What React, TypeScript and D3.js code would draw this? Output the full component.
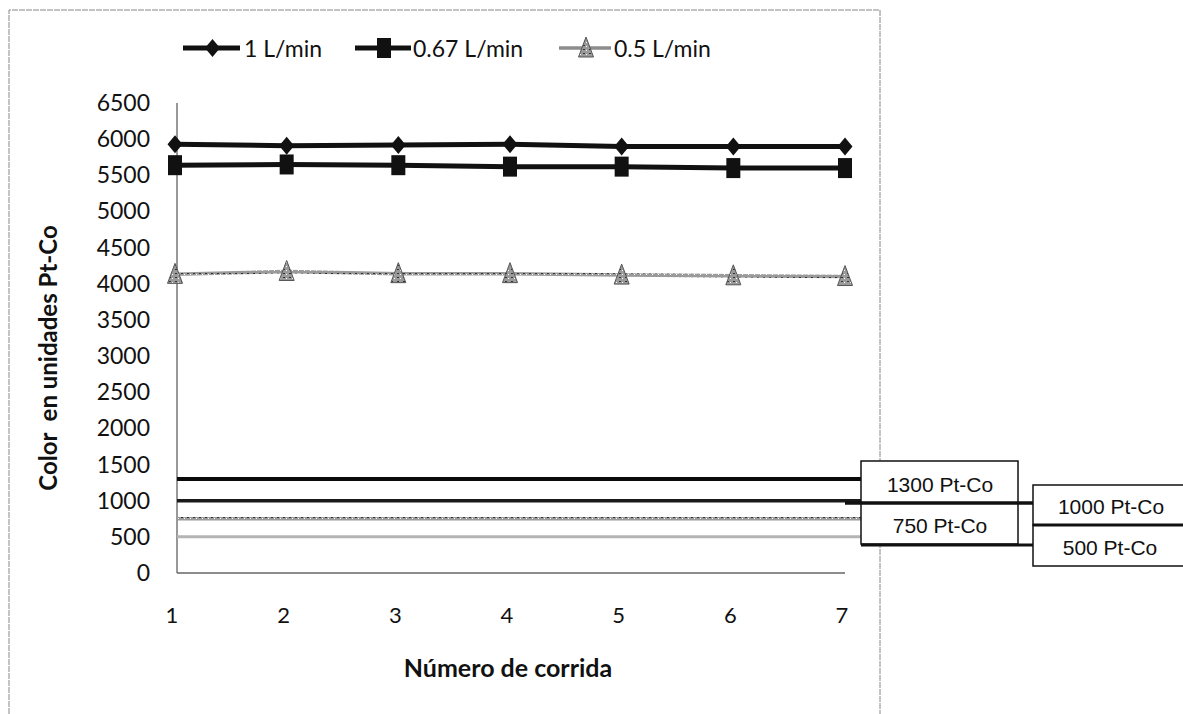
import React from "react";
import * as d3 from "d3";

const runs = [1, 2, 3, 4, 5, 6, 7];
const flow1 = [5930, 5910, 5920, 5930, 5900, 5900, 5900];
const flow067 = [5640, 5650, 5640, 5620, 5620, 5600, 5600];
const flow05 = [4130, 4170, 4140, 4140, 4120, 4110, 4100];
const yTicks = [0, 500, 1000, 1500, 2000, 2500, 3000, 3500, 4000, 4500, 5000, 5500, 6000, 6500];
const limits = [1300, 1000, 750, 500];
const limitLabels = ["1300 Pt-Co", "1000 Pt-Co", "750 Pt-Co", "500 Pt-Co"];

const FONT = "Lato, 'Open Sans', sans-serif";

export default function App() {
  const W = 1183;
  const H = 714;
  const x = d3.scaleLinear().domain([1, 7]).range([175, 845]);
  const y = d3.scaleLinear().domain([0, 6500]).range([573, 103]);
  const line = d3
    .line<number>()
    .x((_, i) => x(runs[i]))
    .y((d) => y(d));

  const series = [
    { name: "1 L/min", values: flow1, color: "#111", width: 5, marker: "diamond" },
    { name: "0.67 L/min", values: flow067, color: "#111", width: 5, marker: "square" },
    { name: "0.5 L/min", values: flow05, color: "#8c8c8c", width: 3.5, marker: "triangle" },
  ];

  const marker = (kind: string, cx: number, cy: number, color: string, key: string) => {
    if (kind === "diamond") {
      return (
        <path key={key} d={`M${cx},${cy - 9}L${cx + 7.5},${cy}L${cx},${cy + 9}L${cx - 7.5},${cy}Z`} fill={color} />
      );
    }
    if (kind === "square") {
      return <rect key={key} x={cx - 7} y={cy - 10} width={14} height={20} fill={color} />;
    }
    return (
      <path
        key={key}
        d={`M${cx},${cy - 11}L${cx + 7.5},${cy + 9}L${cx - 7.5},${cy + 9}Z`}
        fill="url(#grain)"
        stroke="#555"
        strokeWidth={1}
      />
    );
  };

  const legendItems = [
    { s: series[0], x0: 183, x1: 240, tx: 244 },
    { s: series[1], x0: 355, x1: 411, tx: 413 },
    { s: series[2], x0: 559, x1: 611, tx: 614 },
  ];

  const limitStyle = [
    { color: "#0a0a0a", width: 4 },
    { color: "#1a1a1a", width: 3.5 },
    { color: "url(#grain)", width: 3.5 },
    { color: "#b4b4b4", width: 3 },
  ];

  return (
    <svg width={W} height={H} style={{ position: "absolute", left: 0, top: 0, background: "#fff" }}>
      <defs>
        <pattern id="grain" width="6" height="4" patternUnits="userSpaceOnUse">
          <rect width="6" height="4" fill="#9a9a9a" />
          <rect x="1" y="1" width="2" height="1" fill="#333" />
          <rect x="4" y="2" width="1" height="1" fill="#fff" />
        </pattern>
      </defs>
      {/* outer frame */}
      <path d="M9,714V10H880V714" fill="none" stroke="#888" strokeWidth={1} strokeDasharray="6 1" />

      {/* legend */}
      {legendItems.map((it, i) => (
        <g key={i}>
          <line
            x1={it.x0}
            x2={it.x1}
            y1={48}
            y2={48}
            stroke={it.s.marker === "triangle" ? "#8c8c8c" : "#111"}
            strokeWidth={it.s.width}
          />
          {marker(it.s.marker, (it.x0 + it.x1) / 2 + 1, 48, it.s.color, "lm" + i)}
          <text x={it.tx} y={57} fontFamily={FONT} fontSize={23} fill="#111">
            {it.s.name}
          </text>
        </g>
      ))}

      {/* y axis */}
      <line x1={177} x2={177} y1={103} y2={573} stroke="#333" strokeWidth={1} />
      {yTicks.map((t) => (
        <text
          key={t}
          x={150}
          y={y(t) + 8}
          textAnchor="end"
          fontFamily={FONT}
          fontSize={23}
          fill="#111"
        >
          {t}
        </text>
      ))}
      {/* x axis */}
      <line x1={177} x2={845} y1={573} y2={573} stroke="#666" strokeWidth={1.5} />
      {runs.map((r) => (
        <text key={r} x={x(r) - 3} y={623} textAnchor="middle" fontFamily={FONT} fontSize={22} fill="#111">
          {r}
        </text>
      ))}

      <text
        x={508}
        y={677}
        textAnchor="middle"
        fontFamily={FONT}
        fontSize={25}
        fontWeight="bold"
        fill="#111"
      >
        Número de corrida
      </text>
      <text
        transform="translate(57,358) rotate(-90)"
        textAnchor="middle"
        fontFamily={FONT}
        fontSize={24}
        fontWeight="bold"
        fill="#111"
        style={{ whiteSpace: "pre" }}
      >
        {"Color  en unidades Pt-Co"}
      </text>

      {/* reference limits */}
      {limits.map((v, i) => (
        <line
          key={v}
          x1={177}
          x2={861}
          y1={y(v)}
          y2={y(v)}
          stroke={limitStyle[i].color}
          strokeWidth={limitStyle[i].width}
        />
      ))}

      {/* limit callouts */}
      <g fontFamily="'Liberation Sans', Arial, sans-serif" fontSize={21} fill="#111">
        <rect x={861} y={461} width={157} height={42} fill="#fff" stroke="#111" strokeWidth={1.5} />
        <rect x={861} y={503} width={157} height={41} fill="#fff" stroke="#111" strokeWidth={1.5} />
        <rect x={1033} y={485} width={152} height={40} fill="#fff" stroke="#111" strokeWidth={1.5} />
        <rect x={1033} y={525} width={152} height={41} fill="#fff" stroke="#111" strokeWidth={1.5} />
        <line x1={845} x2={1033} y1={503} y2={503} stroke="#111" strokeWidth={3.5} />
        <line x1={861} x2={1033} y1={545} y2={545} stroke="#111" strokeWidth={3} />
        <line x1={1033} x2={1183} y1={525} y2={525} stroke="#111" strokeWidth={3} />
        <text x={940} y={492} textAnchor="middle">{limitLabels[0]}</text>
        <text x={1111} y={514} textAnchor="middle">{limitLabels[1]}</text>
        <text x={940} y={533} textAnchor="middle">{limitLabels[2]}</text>
        <text x={1110} y={555} textAnchor="middle">{limitLabels[3]}</text>
      </g>

      {/* data series */}
      {series.map((s, si) => (
        <g key={s.name}>
          <path
            d={line(s.values) || ""}
            fill="none"
            stroke={s.marker === "triangle" ? "url(#grain)" : s.color}
            strokeWidth={s.width}
          />
          {s.values.map((v, i) => marker(s.marker, x(runs[i]), y(v), s.color, `m${si}-${i}`))}
        </g>
      ))}
    </svg>
  );
}
